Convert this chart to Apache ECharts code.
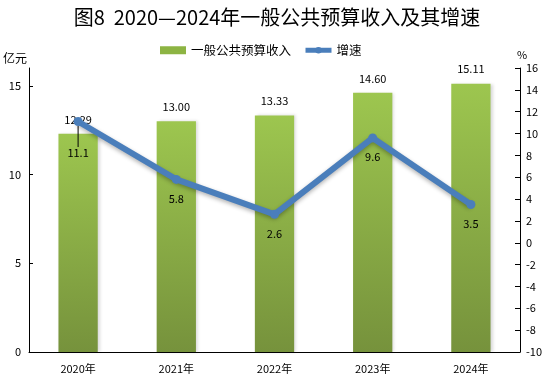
<!DOCTYPE html>
<html><head><meta charset="utf-8">
<script src="https://cdn.jsdelivr.net/npm/echarts@6/dist/echarts.min.js"></script>
<style>html,body{margin:0;padding:0;background:#fff}#c{width:554px;height:387px}</style>
</head><body><div id="c"></div>
<script>
const categories = ['2020年','2021年','2022年','2023年','2024年'];
const revenue = [12.29, 13.00, 13.33, 14.60, 15.11];
const growth = [11.1, 5.8, 2.6, 9.6, 3.5];
const leftTicks = [0, 5, 10, 15];

const font = '"Noto Sans CJK SC", sans-serif';
const chart = echarts.init(document.getElementById('c'));
chart.setOption({
  animation: false,
  backgroundColor: '#fff',
  title: {
    text: '图8  2020—2024年一般公共预算收入及其增速',
    left: 'center', top: 2,
    textStyle: {fontFamily: font, fontSize: 20, fontWeight: 'normal', color: '#000'}
  },
  legend: {
    top: 39, left: 155,
    itemGap: 12,
    textStyle: {fontFamily: font, fontSize: 12.5, color: '#000'},
    data: [
      {name: '一般公共预算收入', icon: 'rect', itemStyle: {color: '#8db443'}},
      {name: '增速', lineStyle: {width: 5, color: '#4a7ebb'}}
    ],
    itemWidth: 26, itemHeight: 8
  },
  grid: {left: 28, right: 34, top: 68, bottom: 35},
  xAxis: {
    type: 'category', data: categories,
    axisLine: {lineStyle: {color: '#000'}},
    axisTick: {inside: true, length: 6, lineStyle: {color: '#000'}},
    axisLabel: {fontFamily: font, fontSize: 11, color: '#000', margin: 11}
  },
  yAxis: [
    {
      type: 'value', min: 0, max: 16, interval: 5,
      name: '亿元', nameLocation: 'end', nameGap: 4,
      nameTextStyle: {fontFamily: font, fontSize: 12, color: '#000', align: 'right', padding: [0, 2, 0, 0]},
      axisLine: {show: true, lineStyle: {color: '#000'}},
      axisTick: {show: true, inside: true, length: 4, lineStyle: {color: '#000'}, customValues: leftTicks},
      axisLabel: {fontFamily: font, fontSize: 11, color: '#000', margin: 8, customValues: leftTicks},
      splitLine: {show: false}
    },
    {
      type: 'value', min: -10, max: 16, interval: 2, position: 'right',
      name: '%', nameLocation: 'end', nameGap: 8,
      nameTextStyle: {fontFamily: font, fontSize: 11, color: '#000', align: 'left', padding: [0, 0, 0, -3]},
      axisLine: {show: true, lineStyle: {color: '#000'}},
      axisTick: {show: true, inside: true, length: 5, lineStyle: {color: '#000'}},
      axisLabel: {fontFamily: font, fontSize: 11, color: '#000', margin: 6},
      splitLine: {show: false}
    }
  ],
  series: [
    {
      name: '一般公共预算收入', type: 'bar', data: revenue, yAxisIndex: 0,
      barWidth: '40%',
      itemStyle: {
        color: new echarts.graphic.LinearGradient(0, 0, 0, 1, [
          {offset: 0, color: '#9dc64f'},
          {offset: 1, color: '#76923c'}
        ]),
        shadowColor: 'rgba(0,0,0,0.15)', shadowBlur: 3, shadowOffsetX: 2
      },
      label: {
        show: true, position: 'top', distance: 9,
        fontFamily: font, fontSize: 11, color: '#000',
        formatter: p => p.value.toFixed(2)
      }
    },
    {
      name: '增速', type: 'line', yAxisIndex: 1,
      data: growth.map((v, i) => i === 0
        ? {value: v, labelLine: {show: true, lineStyle: {color: '#000', width: 1}}}
        : {value: v, labelLine: {show: false}}),
      color: '#4a7ebb',
      symbol: 'circle', symbolSize: 9,
      lineStyle: {width: 6, color: '#4a7ebb', shadowColor: 'rgba(0,0,0,0.3)', shadowBlur: 4, shadowOffsetY: 2},
      itemStyle: {color: '#4a7ebb'},
      label: {
        show: true, position: 'bottom', distance: 9,
        fontFamily: font, fontSize: 11, color: '#000',
        formatter: p => p.value.toFixed(1)
      },
      labelLayout: function (params) {
        if (params.dataIndex === 0) return {dy: 12};
        return {};
      },
      labelLine: {show: false},
      z: 5
    }
  ]
});
</script>
</body></html>
